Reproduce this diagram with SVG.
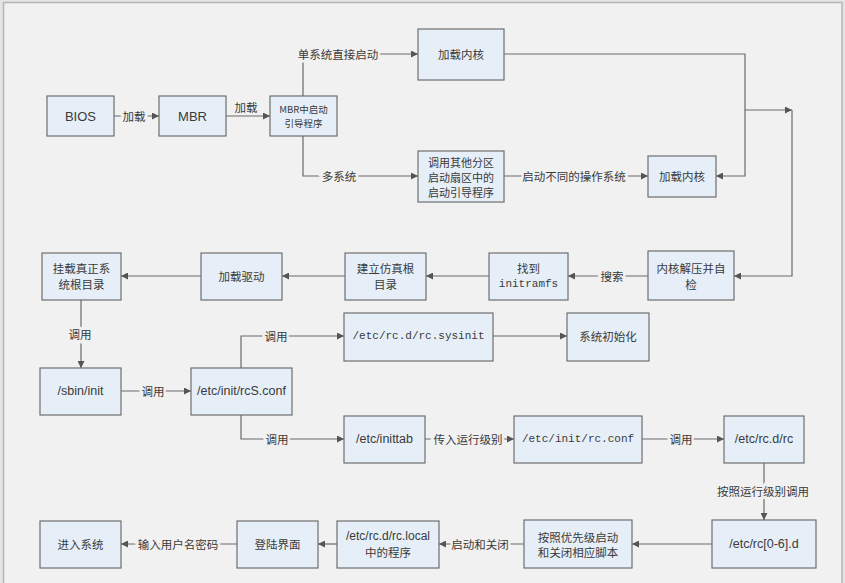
<svg xmlns="http://www.w3.org/2000/svg" width="845" height="583" viewBox="0 0 845 583">
<style>
.box{fill:#e6eff8;stroke:#6e6e6e;stroke-width:1.2}
.t{font-family:"Noto Sans CJK SC","Liberation Sans",sans-serif;font-size:11.5px;fill:#3a3a3a;text-anchor:middle;dominant-baseline:central}
.s{font-family:"Liberation Sans","Noto Sans CJK SC",sans-serif;font-size:12.5px;fill:#3a3a3a;text-anchor:middle;dominant-baseline:central}
.m{font-family:"Liberation Mono","DejaVu Sans Mono",monospace;font-size:11px;fill:#3a3a3a;text-anchor:middle;dominant-baseline:central}
.c{fill:none;stroke:#6a6a6a;stroke-width:1.2}
.l{font-family:"Noto Sans CJK SC",sans-serif;font-size:11.5px;fill:#3a3a3a;text-anchor:middle;dominant-baseline:central;paint-order:stroke;stroke:#f1f1f1;stroke-width:5px}
</style>
<defs>
<marker id="a" viewBox="0 0 10 10" refX="10" refY="5" markerWidth="7" markerHeight="7" markerUnits="userSpaceOnUse" orient="auto">
<path d="M0,0 L10,5 L0,10 z" fill="#555"/>
</marker>
</defs>
<rect width="845" height="583" fill="#e4e4e4"/>
<rect x="3.5" y="2.5" width="838.5" height="590" fill="#f1f1f1" stroke="#b5b5b5" stroke-width="1.5"/>

<g id="connectors">
<path class="c" d="M114,116 H159" marker-end="url(#a)"/>
<path class="c" d="M226,116 H270" marker-end="url(#a)"/>
<path class="c" d="M303,96 V54 H418" marker-end="url(#a)"/>
<path class="c" d="M303,136 V176 H418" marker-end="url(#a)"/>
<path class="c" d="M504,176 H648" marker-end="url(#a)"/>
<path class="c" d="M504,54 H745 V176 H716" marker-end="url(#a)"/>
<path class="c" d="M745,110 H792" marker-end="url(#a)"/>
<path class="c" d="M792,110 V276 H734" marker-end="url(#a)"/>
<path class="c" d="M648,276 H568" marker-end="url(#a)"/>
<path class="c" d="M489,276 H426" marker-end="url(#a)"/>
<path class="c" d="M345,276 H282" marker-end="url(#a)"/>
<path class="c" d="M201,276 H121" marker-end="url(#a)"/>
<path class="c" d="M81,300 V368" marker-end="url(#a)"/>
<path class="c" d="M121,391 H191" marker-end="url(#a)"/>
<path class="c" d="M241,368 V336 H344" marker-end="url(#a)"/>
<path class="c" d="M493,336 H567" marker-end="url(#a)"/>
<path class="c" d="M241,415 V439 H344" marker-end="url(#a)"/>
<path class="c" d="M425,439 H514" marker-end="url(#a)"/>
<path class="c" d="M642,439 H724" marker-end="url(#a)"/>
<path class="c" d="M764,463 V520" marker-end="url(#a)"/>
<path class="c" d="M712,544 H632" marker-end="url(#a)"/>
<path class="c" d="M524,544 H439" marker-end="url(#a)"/>
<path class="c" d="M337,544 H318" marker-end="url(#a)"/>
<path class="c" d="M237,544 H121" marker-end="url(#a)"/>
<text class="l" x="134" y="116">加载</text>
<text class="l" x="246" y="107" style="stroke:none">加载</text>
<text class="l" x="338" y="54">单系统直接启动</text>
<text class="l" x="339" y="176">多系统</text>
<text class="l" x="574" y="176">启动不同的操作系统</text>
<text class="l" x="612" y="276">搜索</text>
<text class="l" x="80" y="334">调用</text>
<text class="l" x="153" y="391">调用</text>
<text class="l" x="276" y="336">调用</text>
<text class="l" x="277" y="439">调用</text>
<text class="l" x="468" y="439">传入运行级别</text>
<text class="l" x="681" y="439">调用</text>
<text class="l" x="763" y="491">按照运行级别调用</text>
<text class="l" x="480" y="544">启动和关闭</text>
<text class="l" x="178" y="544">输入用户名密码</text>
</g>

<g id="bios"><rect class="box" x="47" y="96" width="67" height="40"/><text class="s" x="80.5" y="116" style="font-size:13px">BIOS</text></g>
<g id="mbr"><rect class="box" x="159" y="96" width="67" height="40"/><text class="s" x="192.5" y="116" style="font-size:13px">MBR</text></g>
<g id="mbrboot"><rect class="box" x="270" y="96" width="67" height="40"/><text class="t" x="303.5" y="109" style="font-size:9.5px">MBR中启动</text><text class="t" x="303.5" y="123" style="font-size:9.5px">引导程序</text></g>
<g id="kernel1"><rect class="box" x="418" y="29" width="86" height="51"/><text class="t" x="461" y="54">加载内核</text></g>
<g id="otherpart"><rect class="box" x="418" y="151" width="86" height="51"/><text class="t" x="461" y="161.5" style="font-size:11px">调用其他分区</text><text class="t" x="461" y="176.5" style="font-size:11px">启动扇区中的</text><text class="t" x="461" y="191.5" style="font-size:11px">启动引导程序</text></g>
<g id="kernel2"><rect class="box" x="648" y="156" width="68" height="41"/><text class="t" x="682" y="176">加载内核</text></g>
<g id="decompress"><rect class="box" x="648" y="251" width="86" height="49"/><text class="t" x="691" y="268">内核解压并自</text><text class="t" x="691" y="284">检</text></g>
<g id="initramfs"><rect class="box" x="489" y="253" width="79" height="47"/><text class="t" x="528.5" y="268">找到</text><text class="m" x="528.5" y="284">initramfs</text></g>
<g id="fakeroot"><rect class="box" x="345" y="253" width="81" height="47"/><text class="t" x="385.5" y="268">建立仿真根</text><text class="t" x="385.5" y="284">目录</text></g>
<g id="driver"><rect class="box" x="201" y="253" width="81" height="47"/><text class="t" x="241.5" y="276">加载驱动</text></g>
<g id="realroot"><rect class="box" x="42" y="253" width="79" height="47"/><text class="t" x="81.5" y="268">挂载真正系</text><text class="t" x="81.5" y="284">统根目录</text></g>
<g id="sbininit"><rect class="box" x="40" y="368" width="81" height="47"/><text class="s" x="80.5" y="391">/sbin/init</text></g>
<g id="rcsconf"><rect class="box" x="191" y="368" width="101" height="47"/><text class="s" x="241.5" y="391">/etc/init/rcS.conf</text></g>
<g id="sysinit"><rect class="box" x="344" y="313" width="149" height="48"/><text class="m" x="418.5" y="336">/etc/rc.d/rc.sysinit</text></g>
<g id="sysinitdone"><rect class="box" x="567" y="313" width="82" height="48"/><text class="t" x="608" y="336">系统初始化</text></g>
<g id="inittab"><rect class="box" x="344" y="416" width="81" height="47"/><text class="s" x="384.5" y="439">/etc/inittab</text></g>
<g id="rcconf"><rect class="box" x="514" y="416" width="128" height="47"/><text class="m" x="578" y="439">/etc/init/rc.conf</text></g>
<g id="rcdrc"><rect class="box" x="724" y="416" width="80" height="47"/><text class="s" x="764" y="439">/etc/rc.d/rc</text></g>
<g id="rcnd"><rect class="box" x="712" y="520" width="104" height="48"/><text class="s" x="764" y="544">/etc/rc[0-6].d</text></g>
<g id="priority"><rect class="box" x="524" y="520" width="108" height="48"/><text class="t" x="578" y="536.5">按照优先级启动</text><text class="t" x="578" y="552">和关闭相应脚本</text></g>
<g id="rclocal"><rect class="box" x="337" y="521" width="102" height="47"/><text class="s" x="388" y="536" style="font-size:12px">/etc/rc.d/rc.local</text><text class="t" x="388" y="552">中的程序</text></g>
<g id="login"><rect class="box" x="237" y="521" width="81" height="47"/><text class="t" x="277.5" y="544">登陆界面</text></g>
<g id="enter"><rect class="box" x="40" y="521" width="81" height="47"/><text class="t" x="80.5" y="544">进入系统</text></g>
</svg>
